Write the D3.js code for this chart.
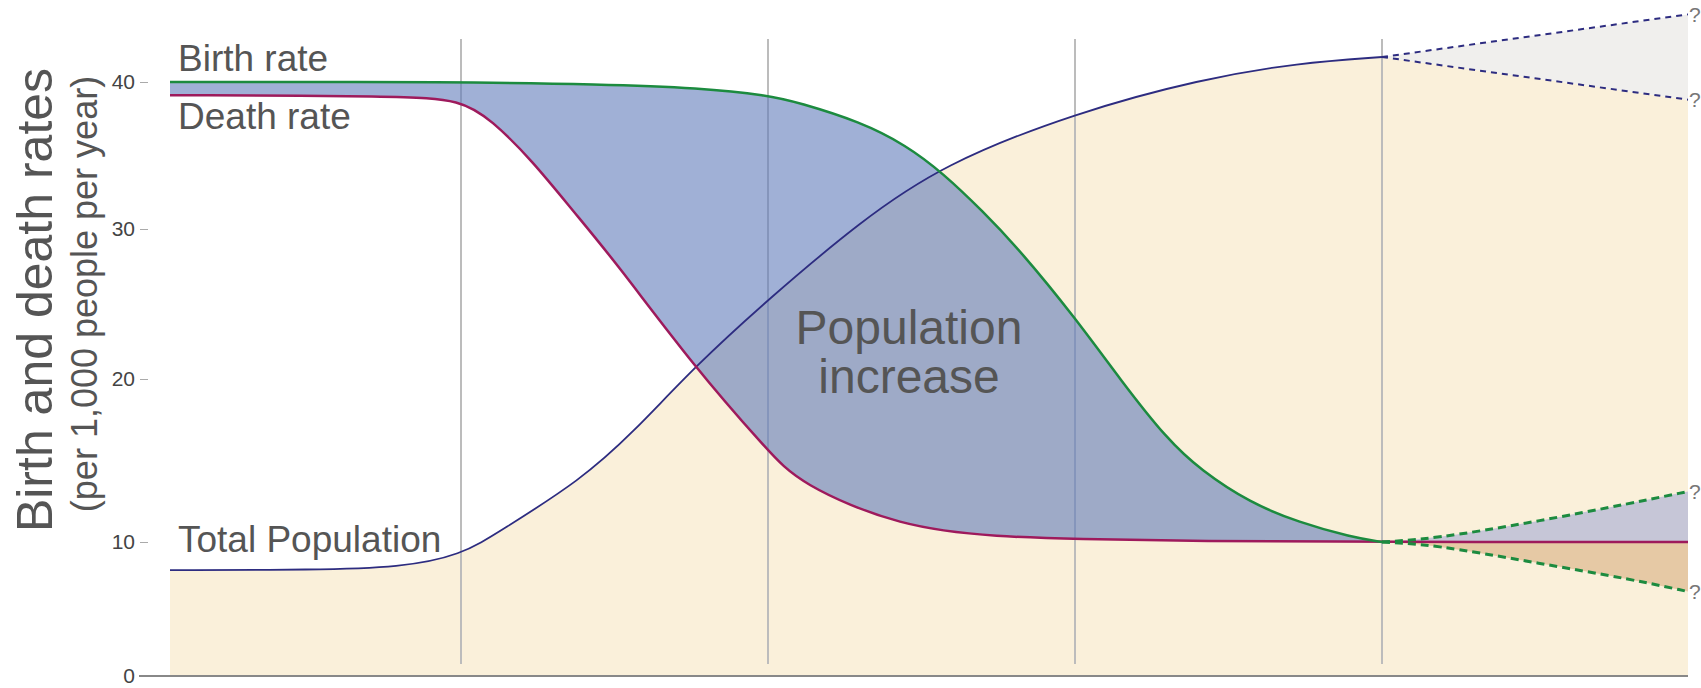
<!DOCTYPE html>
<html>
<head>
<meta charset="utf-8">
<script src="https://d3js.org/d3.v7.min.js"></script>
<style>
  body { margin: 0; background: #fff; }
  svg text { font-family: "Liberation Sans", Arial, Helvetica, sans-serif; fill: #555; }
  .tick text { fill: #444; font-size: 21px; }
  .tick line { stroke: #aaa; }
</style>
</head>
<body>
<svg id="chart" width="1701" height="688"></svg>
<script>
// stage boundaries (x) and rate ticks (y)
var stageEdges = [0, 1, 2, 3, 4, 5];
var yTicks = [0, 10, 20, 30, 40];

// birth rate
var birthT = [0, 1, 1.45, 1.78, 2, 2.1, 2.3, 2.45, 2.57, 2.7, 2.82, 3, 3.15, 3.3, 3.41, 3.57, 3.73, 3.9, 4];
var birthV = [40, 40, 39.85, 39.6, 39.1, 38.6, 37.3, 35.7, 33.8, 31.2, 28.6, 24.1, 19.9, 16.3, 14.4, 12.4, 11.2, 10.3, 10];

// death rate
var deathT = [0, 0.79, 1, 1.1, 1.23, 1.37, 1.5, 1.76, 2, 2.1, 2.43, 2.76, 3, 3.4, 4, 5];
var deathV = [39.1, 39.05, 38.8, 37.4, 34.7, 31.1, 27.9, 20.8, 15.6, 13.6, 10.9, 10.3, 10.2, 10.05, 10, 10];

// total population (drawn on same scale)
var popT = [0, 0.5, 0.79, 1, 1.13, 1.39, 1.56, 1.76, 2, 2.3, 2.57, 3, 3.41, 3.73, 4];
var popV = [7.9, 7.92, 8.1, 9.0, 10.7, 13.8, 16.7, 20.8, 25.3, 30.5, 34.4, 37.9, 40.2, 41.3, 41.7];

// stage 5 projections
var popProjT = [4, 5];
var popUpper = [41.7, 44.6];
var popLower = [41.7, 38.8];
var birthProjT = [4, 4.17, 4.49, 4.82, 5];
var birthUpper = [10, 10.2, 11.2, 12.4, 13.1];
var birthLower = [10, 9.8, 8.5, 7.2, 6.3];

var svg = d3.select("#chart");

var x = d3.scaleLinear().domain(stageEdges).range([170, 461, 768, 1075, 1382, 1688]);
var y = d3.scaleLinear().domain(yTicks).range([676, 542, 379, 229, 82]);

function pts(ts, vs) { return ts.map(function(t, i) { return [t, vs[i]]; }); }

var curve = d3.line().x(function(d) { return x(d[0]); }).y(function(d) { return y(d[1]); }).curve(d3.curveBasis);
var straight = d3.line().x(function(d) { return x(d[0]); }).y(function(d) { return y(d[1]); });

var birthPts = pts(birthT, birthV);
var deathPts = pts(deathT, deathV);
var popPts = pts(popT, popV);
var deathEnd = deathV[deathV.length - 1];

// population area (beige)
var beige = curve(popPts) + straight(pts(popProjT, popLower)).replace(/^M/, "L") +
  "L" + x(5) + "," + y(0) + "L" + x(0) + "," + y(0) + "Z";
svg.append("path").attr("d", beige).attr("fill", "#faf0da");

// uncertainty between population projections
svg.append("path")
  .attr("d", d3.area()
    .x(function(d, i) { return x(popProjT[i]); })
    .y0(function(d, i) { return y(popLower[i]); })
    .y1(function(d, i) { return y(popUpper[i]); })(popProjT))
  .attr("fill", "#f0efed");

// stage separators
svg.selectAll(".stage")
  .data(stageEdges.slice(1, -1))
  .enter().append("line")
  .attr("class", "stage")
  .attr("x1", function(d) { return x(d); })
  .attr("x2", function(d) { return x(d); })
  .attr("y1", 39).attr("y2", 664)
  .attr("stroke", "#bcbcbc").attr("stroke-width", 2);

// population increase (birth above death)
var b4 = birthPts.filter(function(d) { return d[0] <= 4; });
var d4 = deathPts.filter(function(d) { return d[0] <= 4; }).reverse();
svg.append("path")
  .attr("d", curve(b4) + curve(d4).replace(/^M/, "L") + "Z")
  .attr("fill", "rgb(97,123,187)")
  .attr("fill-opacity", 0.6);

// projected birth rate areas
var projArea = d3.area().curve(d3.curveBasis)
  .x(function(d, i) { return x(birthProjT[i]); });
svg.append("path")
  .attr("d", projArea.y0(function() { return y(deathEnd); })
    .y1(function(d, i) { return y(birthUpper[i]); })(birthProjT))
  .attr("fill", "#c6c6d7");
svg.append("path")
  .attr("d", projArea.y0(function(d, i) { return y(birthLower[i]); })
    .y1(function() { return y(deathEnd); })(birthProjT))
  .attr("fill", "#e6c9a5");

// lines
svg.append("path").attr("d", curve(popPts)).attr("fill", "none")
  .attr("stroke", "#2d2c80").attr("stroke-width", 1.8);
svg.append("path").attr("d", curve(deathPts)).attr("fill", "none")
  .attr("stroke", "#9e1a5c").attr("stroke-width", 2.5);
svg.append("path").attr("d", curve(b4)).attr("fill", "none")
  .attr("stroke", "#1c8b3f").attr("stroke-width", 2.5);

// projections (dashed)
[popUpper, popLower].forEach(function(v) {
  svg.append("path").attr("d", straight(pts(popProjT, v))).attr("fill", "none")
    .attr("stroke", "#2d2c80").attr("stroke-width", 2).attr("stroke-dasharray", "6,5");
});
[birthUpper, birthLower].forEach(function(v) {
  svg.append("path").attr("d", curve(pts(birthProjT, v))).attr("fill", "none")
    .attr("stroke", "#1c8b3f").attr("stroke-width", 3).attr("stroke-dasharray", "8,5");
});

// question marks at the projection ends
[popUpper, popLower, birthUpper, birthLower].forEach(function(v) {
  svg.append("text")
    .attr("x", x(5) + 1).attr("y", y(v[v.length - 1]))
    .attr("dy", "0.36em")
    .style("font-size", "21px").style("fill", "#777")
    .text("?");
});

// axis
svg.append("g")
  .attr("transform", "translate(148,0)")
  .call(d3.axisLeft(y).tickValues(yTicks).tickSize(8).tickPadding(5))
  .call(function(g) { g.select(".domain").remove(); });

svg.append("line")
  .attr("x1", 139).attr("x2", x(5))
  .attr("y1", y(0)).attr("y2", y(0))
  .attr("stroke", "#888").attr("stroke-width", 2);

// axis titles
svg.append("text")
  .attr("transform", "translate(52,300) rotate(-90)")
  .attr("text-anchor", "middle")
  .style("font-size", "50px")
  .text("Birth and death rates");
svg.append("text")
  .attr("transform", "translate(97,294) rotate(-90)")
  .attr("text-anchor", "middle")
  .style("font-size", "36px")
  .text("(per 1,000 people per year)");

// series labels
svg.append("text").attr("x", 178).attr("y", 71).style("font-size", "37px").text("Birth rate");
svg.append("text").attr("x", 178).attr("y", 129).style("font-size", "37px").text("Death rate");
svg.append("text").attr("x", 178).attr("y", 552).style("font-size", "37px").text("Total Population");

svg.append("text")
  .attr("x", 909).attr("y", 344)
  .attr("text-anchor", "middle")
  .style("font-size", "48px")
  .text("Population")
  .append("tspan")
  .attr("x", 909).attr("dy", 49)
  .text("increase");
</script>
</body>
</html>
